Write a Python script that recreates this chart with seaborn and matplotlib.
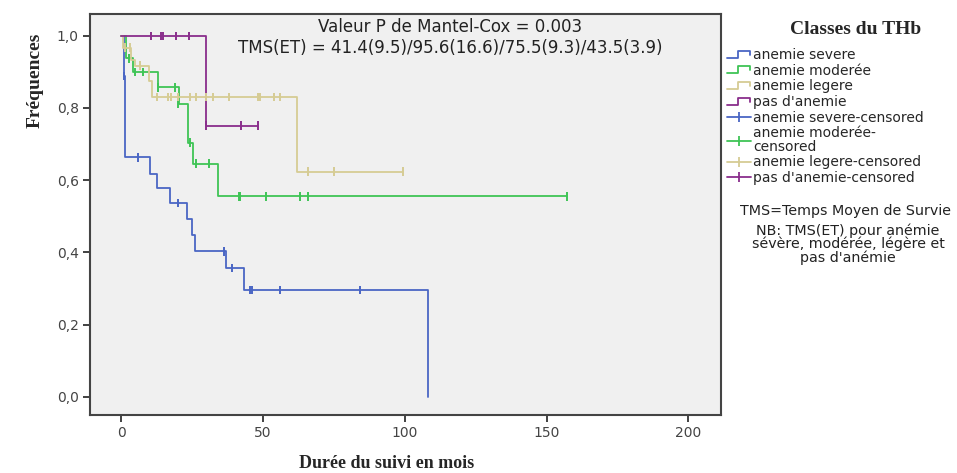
import matplotlib
matplotlib.use("Agg")
import matplotlib.pyplot as plt
import seaborn as sns
import pandas as pd
from matplotlib.lines import Line2D
from matplotlib.legend_handler import HandlerBase
from matplotlib.ticker import FuncFormatter

# ---------------- data ----------------
groups = ["anemie severe", "anemie moderée", "anemie legere", "pas d'anemie"]
colors = ["#4a66c4", "#3fc456", "#d6cc94", "#8a2e8c"]

severe_t = [0, 1.0, 1.5, 10.0, 12.8, 17.1, 23.1, 24.8, 25.9, 36.8, 43.2, 108.1, 108.1]
severe_s = [1.0, 0.889, 0.663, 0.618, 0.577, 0.536, 0.492, 0.447, 0.403, 0.356, 0.296, 0.296, 0.0]
severe_ct = [1.0, 5.8, 19.9, 36.1, 38.9, 45.3, 46.0, 55.9, 84.1]
severe_cs = [0.889, 0.663, 0.536, 0.403, 0.356, 0.296, 0.296, 0.296, 0.296]

moderee_t = [0, 1.8, 4.0, 12.9, 20.4, 23.4, 25.2, 34.0, 157.1]
moderee_s = [1.0, 0.937, 0.899, 0.857, 0.812, 0.704, 0.646, 0.555, 0.555]
moderee_ct = [2.6, 4.7, 7.6, 12.9, 18.8, 19.9, 24.1, 26.3, 30.8, 41.4, 41.9, 50.9, 62.9, 65.7, 157.1]
moderee_cs = [0.937, 0.899, 0.899, 0.857, 0.857, 0.812, 0.704, 0.646, 0.646, 0.555, 0.555, 0.555, 0.555, 0.555, 0.555]

legere_t = [0, 0.5, 3.6, 5.0, 9.8, 11.0, 61.9, 99.3]
legere_s = [1.0, 0.967, 0.933, 0.917, 0.875, 0.831, 0.624, 0.624]
legere_ct = [1.2, 3.0, 6.5, 12.5, 16.4, 17.5, 19.9, 24.1, 26.3, 29.8, 32.3, 37.9, 48.1, 48.8, 53.8, 55.9, 65.7, 74.9, 99.3]
legere_cs = [0.967, 0.967, 0.917, 0.831, 0.831, 0.831, 0.831, 0.831, 0.831, 0.831, 0.831, 0.831, 0.831, 0.831, 0.831, 0.831, 0.624, 0.624, 0.624]

pas_t = [0, 29.8, 48.1]
pas_s = [1.0, 0.751, 0.751]
pas_ct = [10.6, 14.1, 14.6, 19.2, 23.9, 29.8, 42.1, 48.1]
pas_cs = [1.0, 1.0, 1.0, 1.0, 1.0, 0.751, 0.751, 0.751]

x_ticks = [0, 50, 100, 150, 200]
y_ticks = [0.0, 0.2, 0.4, 0.6, 0.8, 1.0]

annot1 = "Valeur P de Mantel-Cox = 0.003"
annot2 = "TMS(ET) = 41.4(9.5)/95.6(16.6)/75.5(9.3)/43.5(3.9)"
legend_title = "Classes du THb"
legend_labels = ["anemie severe", "anemie moderée", "anemie legere", "pas d'anemie",
                 "anemie severe-censored", "anemie moderée-\ncensored",
                 "anemie legere-censored", "pas d'anemie-censored"]
note1 = "TMS=Temps Moyen de Survie"
note2 = "NB: TMS(ET) pour anémie\nsévère, modérée, légère et\npas d'anémie"

# --------------- frames ---------------
steps = pd.concat([
    pd.DataFrame({"t": t, "s": s, "g": g})
    for t, s, g in [(severe_t, severe_s, groups[0]), (moderee_t, moderee_s, groups[1]),
                    (legere_t, legere_s, groups[2]), (pas_t, pas_s, groups[3])]
], ignore_index=True)
cens = pd.concat([
    pd.DataFrame({"t": t, "s": s, "g": g})
    for t, s, g in [(severe_ct, severe_cs, groups[0]), (moderee_ct, moderee_cs, groups[1]),
                    (legere_ct, legere_cs, groups[2]), (pas_ct, pas_cs, groups[3])]
], ignore_index=True)

sns.set_style("white")
plt.rcParams["font.family"] = ["DejaVu Sans"]

fig = plt.figure(figsize=(9.57, 4.73), dpi=100)
ax = fig.add_axes([90 / 957, 1 - 415 / 473, (721 - 90) / 957, (415 - 14) / 473])
ax.set_facecolor("#f0f0f0")
pal = dict(zip(groups, colors))

sns.lineplot(data=steps, x="t", y="s", hue="g", palette=pal, estimator=None,
             sort=False, drawstyle="steps-post", linewidth=1.3, legend=False, ax=ax)
sns.scatterplot(data=cens, x="t", y="s", hue="g", palette=pal, marker="|",
                s=36, linewidth=1.4, legend=False, ax=ax, zorder=3)

ax.set_xlim(-11, 211.5)
ax.set_ylim(-0.05, 1.06)
ax.set_xticks(x_ticks)
ax.set_yticks(y_ticks)
ax.yaxis.set_major_formatter(FuncFormatter(lambda v, p: f"{v:.1f}".replace(".", ",")))
ax.tick_params(axis="both", direction="out", length=5, width=1.3, color="#333333",
               labelsize=10, labelcolor="#444444", bottom=True, left=True, pad=3)
ax.set_xlabel("")
ax.set_ylabel("")
for sp in ax.spines.values():
    sp.set_color("#444444")
    sp.set_linewidth(1.5)

ax.text((450 - 90) / 631, 0.99, annot1, transform=ax.transAxes, ha="center", va="top",
        fontsize=12, color="#222222")
ax.text((450 - 90) / 631, 0.938, annot2, transform=ax.transAxes, ha="center", va="top",
        fontsize=12, color="#222222")

fig.text(35 / 957, 1 - 80 / 473, "Fréquences", rotation=90, ha="center", va="center",
         fontsize=14, fontweight="bold", family=["Liberation Serif"])
fig.text(387 / 957, 1 - 463 / 473, "Durée du suivi en mois", ha="center", va="center",
         fontsize=13, fontweight="bold", family=["Liberation Serif"])


class StepHandler(HandlerBase):
    def create_artists(self, legend, orig_handle, xdescent, ydescent, width, height,
                       fontsize, trans):
        x0, y0 = -xdescent, -ydescent
        xs = [x0, x0 + 0.45 * width, x0 + 0.45 * width, x0 + 0.95 * width, x0 + 0.95 * width]
        ys = [y0 + 0.15 * height, y0 + 0.15 * height, y0 + 0.85 * height,
              y0 + 0.85 * height, y0 + 0.45 * height]
        ln = Line2D(xs, ys, color=orig_handle.get_color(), lw=1.3, transform=trans)
        return [ln]


class CensHandler(HandlerBase):
    def create_artists(self, legend, orig_handle, xdescent, ydescent, width, height,
                       fontsize, trans):
        x0, y0 = -xdescent, -ydescent
        ln = Line2D([x0, x0 + width], [y0 + 0.5 * height] * 2, color=orig_handle.get_color(),
                    lw=1.3, transform=trans)
        mk = Line2D([x0 + 0.5 * width], [y0 + 0.5 * height], color=orig_handle.get_color(),
                    marker="|", markersize=7, mew=1.3, lw=0, transform=trans)
        return [ln, mk]


step_handles = [Line2D([], [], color=c) for c in colors]
cens_handles = [Line2D([], [], color=c, marker="|") for c in colors]
hmap = {h: StepHandler() for h in step_handles}
hmap.update({h: CensHandler() for h in cens_handles})
leg = fig.legend(step_handles + cens_handles, legend_labels, handler_map=hmap,
                 loc="upper left", bbox_to_anchor=(727 / 957, 1 - 48 / 473), frameon=False,
                 fontsize=10, handlelength=1.75, handletextpad=0.12, labelspacing=0.12,
                 borderpad=0, borderaxespad=0)
for t in leg.get_texts():
    t.set_linespacing(0.95)

fig.text(856 / 957, 1 - 30 / 473, legend_title, ha="center", va="center",
         fontsize=14, fontweight="bold", family=["Liberation Serif"])
fig.text(845 / 957, 1 - 211 / 473, note1, ha="center", va="center", fontsize=10.3,
         color="#222222")
fig.text(848 / 957, 1 - 244 / 473, note2, ha="center", va="center", fontsize=10.3,
         color="#222222", linespacing=0.9)

fig.savefig("out.png", dpi=100)
